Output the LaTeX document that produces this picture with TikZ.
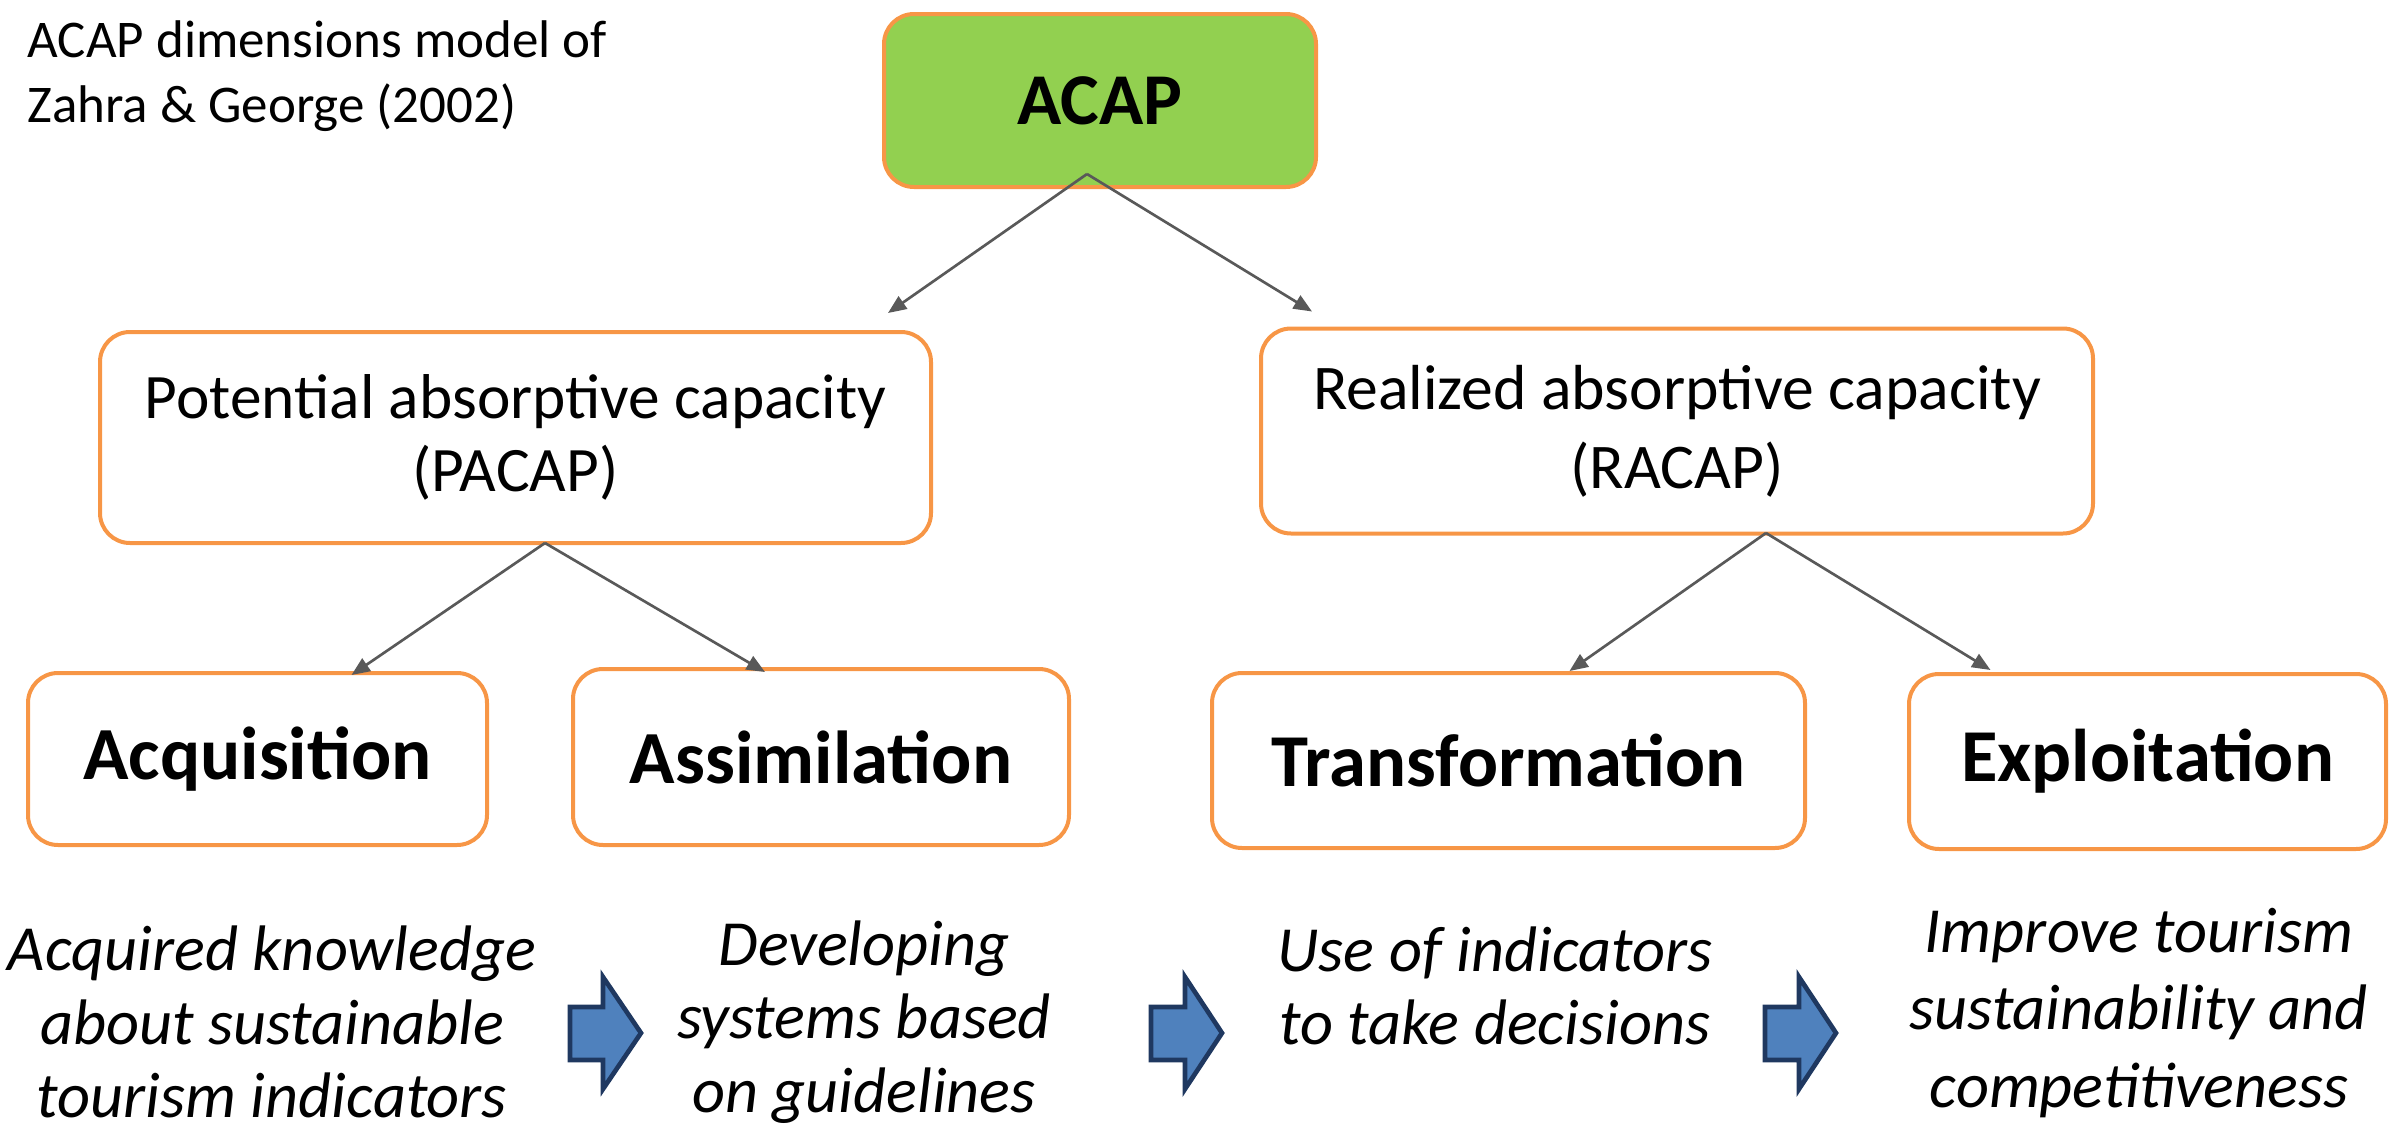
\documentclass[tikz,border=0pt]{standalone}
\usepackage{fontspec}
\setmainfont{Carlito}
\usetikzlibrary{calc}
\usetikzlibrary{arrows.meta}

\begin{document}
\begin{tikzpicture}[x=0.3pt,y=0.3pt,yscale=-1,
  orangebox/.style={draw={rgb,255:red,247;green,150;blue,70}, line width=1.2pt, rounded corners=9pt, align=center, inner sep=0pt},
  conn/.style={draw={rgb,255:red,89;green,89;blue,89}, line width=0.8pt, -{Triangle[length=5.5pt,width=4.5pt]}},
  blockarrow/.style={fill={rgb,255:red,79;green,129;blue,189}, draw={rgb,255:red,31;green,56;blue,96}, line width=1.4pt, line join=miter},
  desc/.style={align=center, inner sep=0pt, font=\fontsize{19.3}{22}\selectfont\itshape}]
\useasboundingbox (0,0) rectangle (2390,1136);

% Text Node
\node [anchor=north west, align=left, inner sep=0pt, font=\fontsize{15.9}{19.4}\selectfont] (title) at (27,20) {ACAP dimensions model of\\Zahra \& George (2002)};

%Shape: Rounded Rect
\node [orangebox, fill={rgb,255:red,146;green,208;blue,80}, minimum width=129.6pt, minimum height=51.9pt, font=\fontsize{21.9}{26}\selectfont\bfseries] (acap) at (1100,100.5) {ACAP};
%Shape: Rounded Rect
\node [orangebox, minimum width=249.3pt, minimum height=63.3pt, font=\fontsize{19}{21.8}\selectfont] (pacap) at (515.5,437.5) {Potential absorptive capacity\\(PACAP)};
%Shape: Rounded Rect
\node [orangebox, minimum width=249.6pt, minimum height=61.5pt, font=\fontsize{19.1}{23.8}\selectfont] (racap) at (1677,431) {Realized absorptive capacity\\(RACAP)};

%Shape: Rounded Rect
\node [orangebox, minimum width=137.7pt, minimum height=51.6pt, font=\fontsize{22.5}{26}\selectfont\bfseries] (acq) at (257.5,759) {Acquisition};
%Shape: Rounded Rect
\node [orangebox, minimum width=148.8pt, minimum height=52.8pt, font=\fontsize{22.5}{26}\selectfont\bfseries] (assim) at (821,757) {Assimilation};
%Shape: Rounded Rect
\node [orangebox, minimum width=177.9pt, minimum height=52.5pt, font=\fontsize{22.4}{26}\selectfont\bfseries] (trans) at (1508.5,760.5) {Transformation};
%Shape: Rounded Rect
\node [orangebox, minimum width=143.1pt, minimum height=52.5pt, font=\fontsize{22.4}{26}\selectfont\bfseries] (expl) at (2147.5,761.5) {Exploitation};

% fork points of the connectors
\coordinate (acapfork) at (1087,174);
\coordinate (pacapfork) at (545,543);
\coordinate (racapfork) at (1766,533);

%Straight Lines
\draw [conn] (acapfork) -- ($(pacap.north east)+(-45,-17)$);
\draw [conn] (acapfork) -- ($(racap.north west)+(53,-15)$);
%Straight Lines
\draw [conn] (pacapfork) -- ($(acq.north)+(94,4)$);
\draw [conn] (pacapfork) -- ($(assim.north)+(-56,5)$);
%Straight Lines
\draw [conn] (racapfork) -- ($(trans.north)+(61,0)$);
\draw [conn] (racapfork) -- ($(expl.north)+(-157,-2)$);

% Text Node
\node [desc] (acqtext) at (272,1022) {Acquired knowledge\\about sustainable\\tourism indicators};
% Text Node
\node [desc] (assimtext) at (864,1022) {Developing\\systems based\\on guidelines};
% Text Node
\node [desc] (transtext) at (1495,986) {Use of indicators\\to take decisions};
% Text Node
\node [desc, font=\fontsize{19.3}{23.3}\selectfont\itshape] (expltext) at (2139,1013) {Improve tourism\\sustainability and\\competitiveness};

%Shape: Right Arrow
\draw [blockarrow] (570,1007) -- (603,1007) -- (603,977) -- (641,1033) -- (603,1089) -- (603,1060) -- (570,1060) -- cycle;
%Shape: Right Arrow
\draw [blockarrow] (1151,1007) -- (1185,1007) -- (1185,977) -- (1222,1033) -- (1185,1089) -- (1185,1060) -- (1151,1060) -- cycle;
%Shape: Right Arrow
\draw [blockarrow] (1765,1007) -- (1799,1007) -- (1799,977) -- (1836,1033) -- (1799,1089) -- (1799,1060) -- (1765,1060) -- cycle;

\end{tikzpicture}
\end{document}
